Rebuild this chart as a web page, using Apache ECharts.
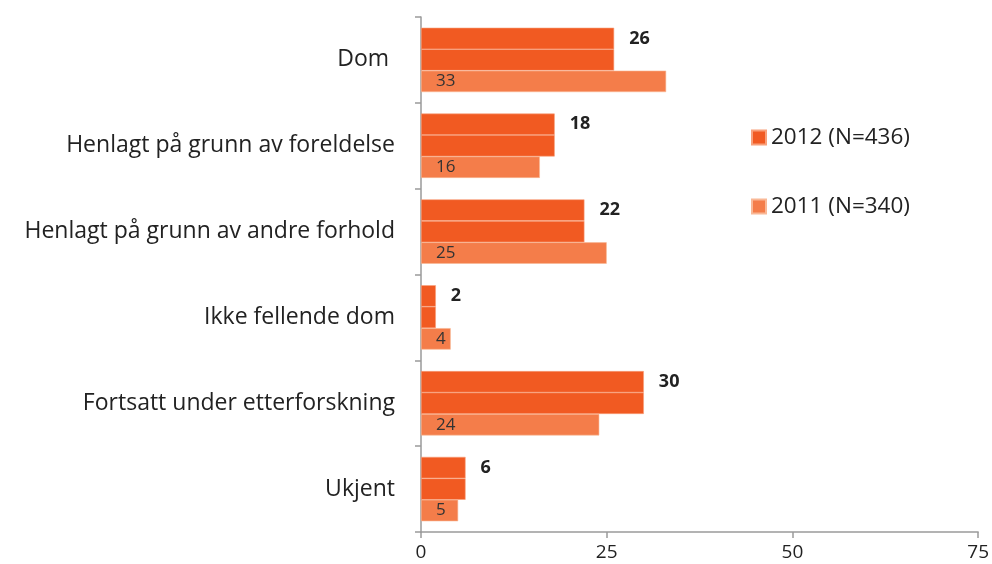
<!DOCTYPE html>
<html><head><meta charset="utf-8">
<script src="https://cdn.jsdelivr.net/npm/echarts@6/dist/echarts.min.js"></script>
<style>html,body{margin:0;padding:0;background:#fff}#c{width:992px;height:564px}</style>
</head><body><div id="c"></div>
<script>
const categories = ['Dom ', 'Henlagt på grunn av foreldelse', 'Henlagt på grunn av andre forhold', 'Ikke fellende dom', 'Fortsatt under etterforskning', 'Ukjent'];
const values2012 = [26, 18, 22, 2, 30, 6];
const values2011 = [33, 16, 25, 4, 24, 5];
const xTicks = [0, 25, 50, 75];
const name2012 = '2012 (N=436)';
const name2011 = '2011 (N=340)';

const c2012 = '#F15A22', c2011 = '#F47D4A';
const font = 'Open Sans';
const chart = echarts.init(document.getElementById('c'));
chart.setOption({
  animation: false,
  textStyle: { fontFamily: font },
  grid: { left: 421, right: 12, top: 17, bottom: 32, containLabel: false },
  legend: {
    orient: 'vertical', left: 746, top: 121, itemGap: 46,
    itemWidth: 14, itemHeight: 14, icon: 'rect',
    textStyle: { fontSize: 22.5, color: '#222', fontFamily: font },
    data: [name2012, name2011]
  },
  xAxis: {
    type: 'value', min: xTicks[0], max: xTicks[xTicks.length - 1], interval: 25,
    axisLine: { show: true, lineStyle: { color: '#9a9a9a', width: 1.5 } },
    axisTick: { show: true, length: 6, lineStyle: { color: '#9a9a9a', width: 1.5 } },
    splitLine: { show: false },
    axisLabel: { fontSize: 19, color: '#222', margin: 11, fontFamily: font }
  },
  yAxis: {
    type: 'category', data: categories, inverse: true,
    axisLine: { show: true, lineStyle: { color: '#9a9a9a', width: 1.5 } },
    axisTick: { show: true, length: 6, lineStyle: { color: '#9a9a9a', width: 1.5 } },
    axisLabel: { fontSize: 23, color: '#222', margin: 26, fontFamily: font }
  },
  series: [
    { name: name2012, type: 'bar', data: values2012, barGap: '0%', barCategoryGap: '25%',
      itemStyle: { color: c2012, borderColor: '#F8A07A', borderWidth: 0.6 },
      label: { show: true, position: 'right', distance: 15, fontSize: 18, fontWeight: 'bold', color: '#222', fontFamily: font } },
    { name: name2012, type: 'bar', data: values2012, barGap: '0%', barCategoryGap: '25%',
      itemStyle: { color: c2012, borderColor: '#F8A07A', borderWidth: 0.6 } },
    { name: name2011, type: 'bar', data: values2011, barGap: '0%', barCategoryGap: '25%',
      itemStyle: { color: c2011, borderColor: '#F9B896', borderWidth: 0.6 },
      label: { show: true, position: 'insideLeft', distance: 15, fontSize: 17, color: '#333', fontFamily: font } }
  ]
});
</script></body></html>
